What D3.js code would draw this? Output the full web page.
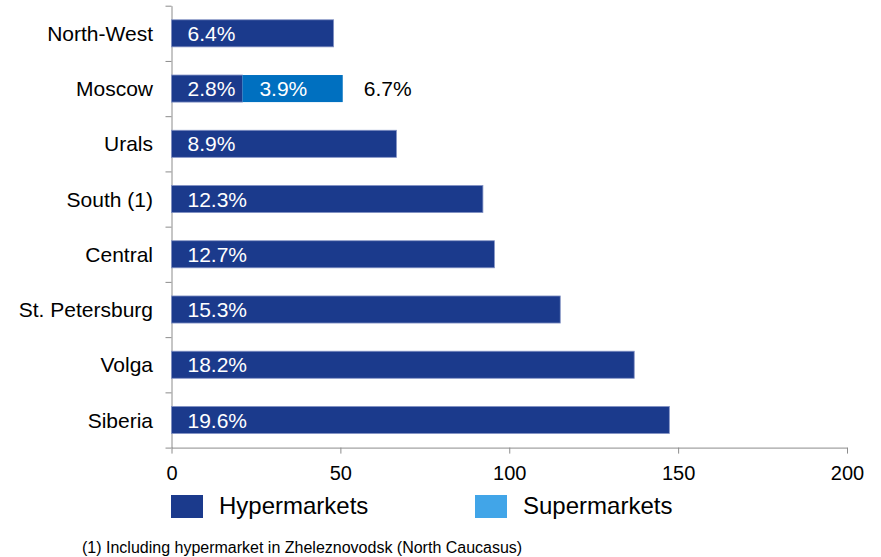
<!DOCTYPE html>
<html lang="en">
<head>
  <meta charset="UTF-8">
  <title>Stores by region</title>
  <script src="https://d3js.org/d3.v7.min.js"></script>
  <style>
    body {
      margin: 0;
      background: #fff;
      font-family: "Liberation Sans", Arial, sans-serif;
    }
    .axis path, .axis line {
      stroke: #8c8c8c;
    }
    .axis text {
      font-family: "Liberation Sans", Arial, sans-serif;
      fill: #000;
    }
  </style>
</head>
<body>
<div id="chart"></div>

<script>
  // data
  const regions = ["North-West", "Moscow", "Urals", "South (1)", "Central", "St. Petersburg", "Volga", "Siberia"];
  const hyperValues = [48, 21, 66.6, 92.2, 95.6, 115.1, 137, 147.4];
  const superValues = [0, 29.7, 0, 0, 0, 0, 0, 0];
  const hyperLabels = ["6.4%", "2.8%", "8.9%", "12.3%", "12.7%", "15.3%", "18.2%", "19.6%"];
  const superLabels = ["", "3.9%", "", "", "", "", "", ""];
  const totalLabels = ["", "6.7%", "", "", "", "", "", ""];
  const xTicks = [0, 50, 100, 150, 200];
  const seriesNames = ["Hypermarkets", "Supermarkets"];

  const hyperColor = "#1b3a8c";
  const superColor = "#0070c0";
  const superLegendColor = "#41a5e8";

  const W = 881, H = 557;
  const plotLeft = 171.5, plotRight = 847, plotTop = 5.7, plotBottom = 447.6;

  const svg = d3.select("#chart")
    .append("svg")
    .attr("width", W)
    .attr("height", H);

  const x = d3.scaleLinear().domain([0, 200]).range([plotLeft, plotRight]);

  const y = d3.scaleBand()
    .domain(regions)
    .range([plotTop, plotBottom])
    .paddingInner(0.51)
    .paddingOuter(0.255);

  // boundary ticks between categories
  const yEdges = d3.scaleLinear().domain([0, regions.length]).range([plotTop, plotBottom]);

  svg.append("g")
    .attr("class", "axis")
    .attr("transform", `translate(${plotLeft},0)`)
    .call(d3.axisLeft(yEdges).ticks(regions.length).tickSize(6).tickSizeOuter(0).tickFormat(""));

  svg.append("g")
    .attr("class", "axis")
    .attr("transform", `translate(0,${plotBottom})`)
    .call(d3.axisBottom(x).tickValues(xTicks).tickSize(6).tickSizeOuter(0).tickPadding(12))
    .selectAll("text")
    .style("font-size", "20px");

  const rows = regions.map((r, i) => ({
    region: r,
    hyper: hyperValues[i],
    sup: superValues[i],
    hl: hyperLabels[i],
    sl: superLabels[i],
    tl: totalLabels[i]
  }));

  // hypermarket bars
  svg.selectAll("rect.hyper")
    .data(rows)
    .enter()
    .append("rect")
    .attr("class", "hyper")
    .attr("x", x(0))
    .attr("y", d => y(d.region))
    .attr("width", d => x(d.hyper) - x(0))
    .attr("height", y.bandwidth())
    .attr("fill", hyperColor)
    .attr("stroke", "#8392c4")
    .attr("stroke-width", 0.8);

  // supermarket bars
  svg.selectAll("rect.super")
    .data(rows.filter(d => d.sup > 0))
    .enter()
    .append("rect")
    .attr("class", "super")
    .attr("x", d => x(d.hyper))
    .attr("y", d => y(d.region))
    .attr("width", d => x(d.hyper + d.sup) - x(d.hyper))
    .attr("height", y.bandwidth())
    .attr("fill", superColor);

  // labels inside bars
  svg.selectAll("text.hl")
    .data(rows)
    .enter()
    .append("text")
    .attr("class", "hl")
    .attr("x", x(0) + 16)
    .attr("y", d => y(d.region) + y.bandwidth() / 2)
    .attr("dy", "0.36em")
    .style("font-size", "21px")
    .style("fill", "#fff")
    .text(d => d.hl);

  svg.selectAll("text.sl")
    .data(rows.filter(d => d.sl))
    .enter()
    .append("text")
    .attr("class", "sl")
    .attr("x", d => x(d.hyper) + 17)
    .attr("y", d => y(d.region) + y.bandwidth() / 2)
    .attr("dy", "0.36em")
    .style("font-size", "21px")
    .style("fill", "#fff")
    .text(d => d.sl);

  svg.selectAll("text.tl")
    .data(rows.filter(d => d.tl))
    .enter()
    .append("text")
    .attr("class", "tl")
    .attr("x", d => x(d.hyper + d.sup) + 21)
    .attr("y", d => y(d.region) + y.bandwidth() / 2)
    .attr("dy", "0.36em")
    .style("font-size", "21px")
    .style("fill", "#000")
    .text(d => d.tl);

  // category names
  svg.selectAll("text.cat")
    .data(rows)
    .enter()
    .append("text")
    .attr("class", "cat")
    .attr("x", plotLeft - 18.5)
    .attr("y", d => y(d.region) + y.bandwidth() / 2)
    .attr("dy", "0.36em")
    .attr("text-anchor", "end")
    .style("font-size", "21px")
    .style("fill", "#000")
    .text(d => d.region);

  // legend
  const legendX = [171, 475];
  const legendColors = [hyperColor, superLegendColor];
  const legend = svg.selectAll("g.legend")
    .data(seriesNames)
    .enter()
    .append("g")
    .attr("class", "legend")
    .attr("transform", (d, i) => `translate(${legendX[i]}, 495)`);

  legend.append("rect")
    .attr("width", 32)
    .attr("height", 23)
    .attr("fill", (d, i) => legendColors[i]);

  legend.append("text")
    .attr("x", 48)
    .attr("y", 18.5)
    .style("font-size", "24px")
    .style("fill", "#000")
    .text(d => d);

  // footnote
  svg.append("text")
    .attr("x", 82)
    .attr("y", 553)
    .style("font-size", "16px")
    .style("fill", "#000")
    .text("(1) Including hypermarket in Zheleznovodsk (North Caucasus)");
</script>
</body>
</html>
